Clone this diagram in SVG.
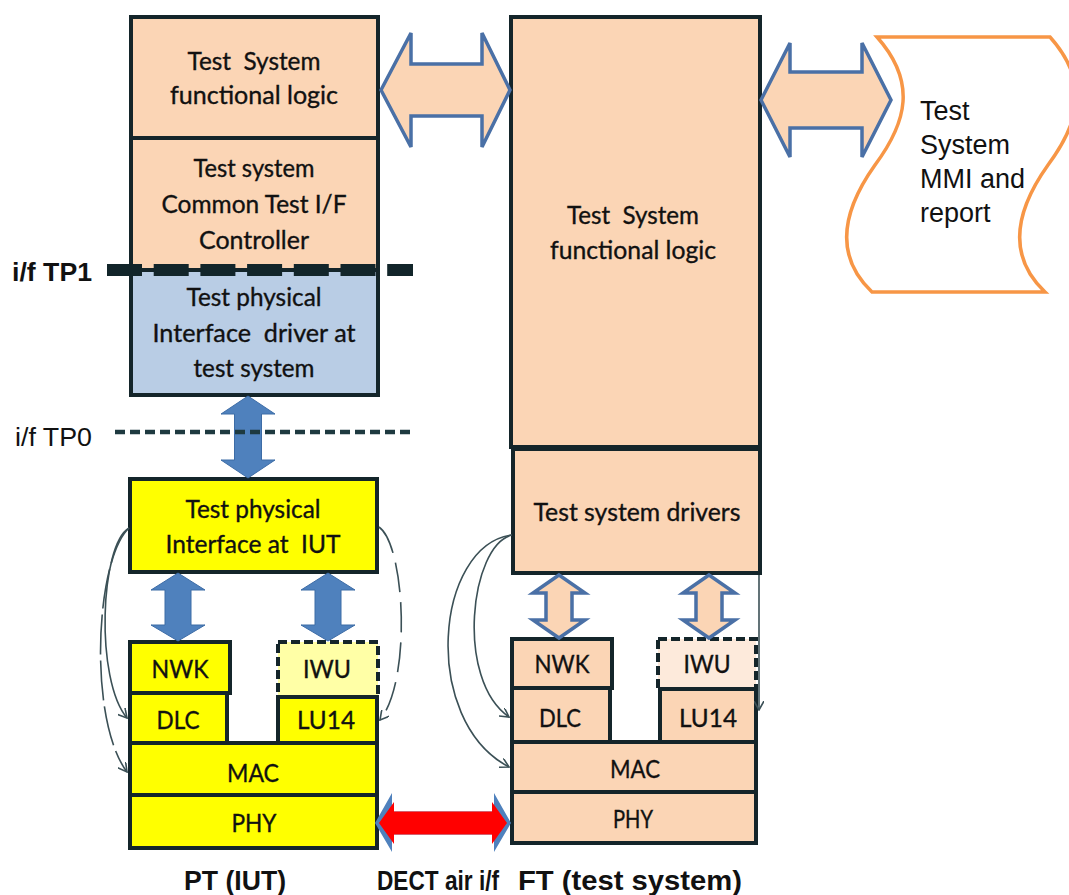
<svg xmlns="http://www.w3.org/2000/svg" width="1069" height="895" viewBox="0 0 1069 895">
<style>
.box{stroke:#14252a;stroke-width:4}
.dash{stroke-dasharray:9 4}
.peach{fill:#fbd5b5}
.pale{fill:#fdeadb}
.yel{fill:#ffff00}
.pyel{fill:#ffffa6}
.blue{fill:#b9cde5}
.lbl{font-family:Lato,"Liberation Sans",sans-serif;font-size:25px;fill:#111;stroke:#111;stroke-width:0.35;text-anchor:middle}
.ar{font-family:"Liberation Sans",Arial,sans-serif;fill:#111}
.barrow{fill:#4f81bd;stroke:#3d6ca6;stroke-width:1}
.parrow{fill:#fbd5b5;stroke:#4a70a6;stroke-width:3.5;stroke-linejoin:miter}
.curve{fill:none;stroke:#3b5056;stroke-width:1.6}
</style>
<defs>
<marker id="open" viewBox="0 0 10 10" refX="9" refY="5" markerWidth="10" markerHeight="10" markerUnits="userSpaceOnUse" orient="auto">
<path d="M0,0 L9,5 L0,10" fill="none" stroke="#3b5056" stroke-width="1.6"/>
</marker>
</defs>
<rect width="1069" height="895" fill="#ffffff"/>

<!-- PT column -->
<g id="pt-logic">
<rect class="box peach" x="131" y="17" width="247" height="121"/>
<text class="lbl" x="254" y="70" textLength="133" lengthAdjust="spacingAndGlyphs" xml:space="preserve">Test  System</text>
<text class="lbl" x="254" y="104" textLength="168" lengthAdjust="spacingAndGlyphs">functional logic</text>
</g>
<g id="pt-controller">
<rect class="box peach" x="131" y="138" width="247" height="132"/>
<text class="lbl" x="254" y="177" textLength="121" lengthAdjust="spacingAndGlyphs">Test system</text>
<text class="lbl" x="254" y="213" textLength="185" lengthAdjust="spacingAndGlyphs">Common Test I/F</text>
<text class="lbl" x="254" y="249" textLength="110" lengthAdjust="spacingAndGlyphs">Controller</text>
</g>
<g id="pt-driver">
<rect class="box blue" x="131" y="270" width="247" height="125"/>
<text class="lbl" x="254" y="306" textLength="135" lengthAdjust="spacingAndGlyphs">Test physical</text>
<text class="lbl" x="254" y="342" textLength="203" lengthAdjust="spacingAndGlyphs" xml:space="preserve">Interface  driver at</text>
<text class="lbl" x="254" y="377" textLength="121" lengthAdjust="spacingAndGlyphs">test system</text>
</g>
<g id="pt-iut-if">
<rect class="box yel" x="130" y="479" width="247" height="93"/>
<text class="lbl" x="253" y="518" textLength="135" lengthAdjust="spacingAndGlyphs">Test physical</text>
<text class="lbl" x="253" y="553" textLength="175" lengthAdjust="spacingAndGlyphs" xml:space="preserve">Interface at  IUT</text>
</g>
<g id="pt-nwk">
<rect class="box yel" x="130" y="642" width="100" height="51"/>
<text class="lbl" x="180" y="678" textLength="57" lengthAdjust="spacingAndGlyphs">NWK</text>
</g>
<g id="pt-iwu">
<rect class="box pyel dash" x="278" y="642" width="100" height="55"/>
<text class="lbl" x="327" y="678" textLength="48" lengthAdjust="spacingAndGlyphs">IWU</text>
</g>
<g id="pt-dlc">
<rect class="box yel" x="130" y="693" width="97" height="50"/>
<text class="lbl" x="178" y="729" textLength="43" lengthAdjust="spacingAndGlyphs">DLC</text>
</g>
<g id="pt-lu14">
<rect class="box yel" x="278" y="697" width="99" height="46"/>
<text class="lbl" x="326" y="729" textLength="58" lengthAdjust="spacingAndGlyphs">LU14</text>
</g>
<g id="pt-mac">
<rect class="box yel" x="130" y="743" width="247" height="52"/>
<text class="lbl" x="253" y="782" textLength="52" lengthAdjust="spacingAndGlyphs">MAC</text>
</g>
<g id="pt-phy">
<rect class="box yel" x="130" y="795" width="247" height="53"/>
<text class="lbl" x="254" y="832" textLength="45" lengthAdjust="spacingAndGlyphs">PHY</text>
</g>

<!-- FT column -->
<g id="ft-logic">
<rect class="box peach" x="511" y="17" width="249" height="430"/>
<text class="lbl" x="633" y="224" textLength="132" lengthAdjust="spacingAndGlyphs" xml:space="preserve">Test  System</text>
<text class="lbl" x="633" y="259" textLength="166" lengthAdjust="spacingAndGlyphs">functional logic</text>
</g>
<g id="ft-drivers">
<rect class="box peach" x="513" y="449" width="247" height="124"/>
<text class="lbl" x="637" y="521" textLength="207" lengthAdjust="spacingAndGlyphs">Test system drivers</text>
</g>
<g id="ft-nwk">
<rect class="box peach" x="512" y="639" width="100" height="49"/>
<text class="lbl" x="562" y="673" textLength="55" lengthAdjust="spacingAndGlyphs">NWK</text>
</g>
<g id="ft-iwu">
<rect class="box pale dash" x="658" y="639" width="98" height="50"/>
<text class="lbl" x="707" y="673" textLength="47" lengthAdjust="spacingAndGlyphs">IWU</text>
</g>
<g id="ft-dlc">
<rect class="box peach" x="512" y="688" width="98" height="54"/>
<text class="lbl" x="560" y="727" textLength="42" lengthAdjust="spacingAndGlyphs">DLC</text>
</g>
<g id="ft-lu14">
<rect class="box peach" x="660" y="689" width="96" height="53"/>
<text class="lbl" x="708" y="727" textLength="58" lengthAdjust="spacingAndGlyphs">LU14</text>
</g>
<g id="ft-mac">
<rect class="box peach" x="512" y="742" width="244" height="50"/>
<text class="lbl" x="635" y="778" textLength="50" lengthAdjust="spacingAndGlyphs">MAC</text>
</g>
<g id="ft-phy">
<rect class="box peach" x="512" y="792" width="244" height="51"/>
<text class="lbl" x="633" y="828" textLength="40" lengthAdjust="spacingAndGlyphs">PHY</text>
</g>

<!-- MMI -->
<g id="mmi">
<path d="M877,37 L1050,37 C1090,82 1080,122 1048,165 C1016,210 1006,255 1045,292 L872,292 C833,255 843,210 875,165 C907,122 917,82 877,37 Z" fill="#ffffff" stroke="#f79646" stroke-width="3.5"/>
<text class="ar" x="920" y="120" font-size="27">Test</text>
<text class="ar" x="920" y="154" font-size="27">System</text>
<text class="ar" x="920" y="188" font-size="27">MMI and</text>
<text class="ar" x="920" y="222" font-size="27">report</text>
</g>

<!-- connectors -->
<g id="connectors">
<path class="parrow" d="M381,90 L411,33 L411,64 L482,64 L482,33 L510,90 L482,147 L482,116 L411,116 L411,147 Z"/>
<path class="parrow" d="M761,100 L790,43 L790,72 L862,72 L862,43 L891,100 L862,157 L862,128 L790,128 L790,157 Z"/>
<path class="barrow" d="M248,396 L275,414 L261.5,414 L261.5,460 L275,460 L248,478 L221,460 L234.5,460 L234.5,414 L221,414 Z"/>
<path class="barrow" d="M178,573 L205,590 L191,590 L191,625 L205,625 L178,641 L151,625 L165,625 L165,590 L151,590 Z"/>
<path class="barrow" d="M328,573 L355,590 L341,590 L341,625 L355,625 L328,641 L301,625 L315,625 L315,590 L301,590 Z"/>
<path class="parrow" d="M559,575 L585,593 L572,593 L572,620 L585,620 L559,638 L533,620 L546,620 L546,593 L533,593 Z"/>
<path class="parrow" d="M709,575 L735,593 L722,593 L722,620 L735,620 L709,638 L683,620 L696,620 L696,593 L683,593 Z"/>
<path d="M375,823 L392,793 L392,811.5 L494,811.5 L494,793 L511,823 L494,852 L494,834.5 L392,834.5 L392,852 Z" fill="#4f81bd"/>
<path d="M379,823 L394,802 L394,811.5 L492,811.5 L492,802 L507,823 L492,844 L492,834.5 L394,834.5 L394,844 Z" fill="#ff0000"/>
<path class="curve" d="M129,528 C100,545 95,680 127,718" marker-end="url(#open)"/>
<path class="curve" d="M129,528 C95,560 88,720 127,772" stroke-dasharray="40 6" marker-end="url(#open)"/>
<path class="curve" d="M379,527 C405,545 412,680 380,720" stroke-dasharray="30 10" marker-end="url(#open)"/>
<path class="curve" d="M512,535 C470,545 455,680 509,717" marker-end="url(#open)"/>
<path class="curve" d="M512,535 C435,545 420,720 509,767" marker-end="url(#open)"/>
<path class="curve" d="M759,575 L759,710" marker-end="url(#open)"/>
</g>

<!-- interface lines -->
<g id="interfaces">
<line x1="107" y1="270" x2="413" y2="270" stroke="#12252a" stroke-width="12" stroke-dasharray="35 11.7"/>
<line x1="115" y1="432" x2="411" y2="432" stroke="#1e3a40" stroke-width="4.5" stroke-dasharray="10 5"/>
<text class="ar" x="12" y="281" font-size="25" font-weight="bold" textLength="80" lengthAdjust="spacingAndGlyphs">i/f TP1</text>
<text class="ar" x="15" y="446" font-size="26" textLength="77" lengthAdjust="spacingAndGlyphs">i/f TP0</text>
</g>

<!-- bottom labels -->
<g id="labels">
<text class="ar" x="184" y="890" font-size="27" font-weight="bold" textLength="102" lengthAdjust="spacingAndGlyphs">PT (IUT)</text>
<text class="ar" x="377" y="890" font-size="27" font-weight="bold" textLength="122" lengthAdjust="spacingAndGlyphs">DECT air i/f</text>
<text class="ar" x="518" y="890" font-size="27" font-weight="bold" textLength="224" lengthAdjust="spacingAndGlyphs">FT (test system)</text>
</g>
</svg>
